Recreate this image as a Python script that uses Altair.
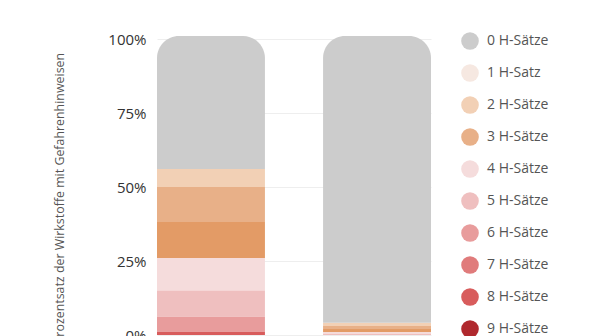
import altair as alt
import pandas as pd

# Stack order from top to bottom
categories = ["0 H-Sätze", "1 H-Satz", "2 H-Sätze", "3 H-Sätze", "10 H-Sätze",
              "4 H-Sätze", "5 H-Sätze", "6 H-Sätze", "7 H-Sätze", "8 H-Sätze", "9 H-Sätze"]
colors = ["#cccccc", "#f6e8e1", "#f2d0b5", "#e8b088", "#e39b66",
          "#f5dcdc", "#efbfbf", "#e89c9c", "#e07b7b", "#d85c5c", "#b0292e"]
legend_values = ["0 H-Sätze", "1 H-Satz", "2 H-Sätze", "3 H-Sätze", "4 H-Sätze",
                 "5 H-Sätze", "6 H-Sätze", "7 H-Sätze", "8 H-Sätze", "9 H-Sätze"]

groups = ["A", "B"]
values_a = [44.9, 0.0, 6.1, 11.8, 12.2, 11.0, 8.8, 5.1, 0.0, 1.1, 0.0]
values_b = [96.9, 0.0, 1.1, 1.0, 1.0, 0.6, 0.4, 0.0, 0.0, 0.0, 0.0]

rows = []
n = len(categories)
for g, vals in zip(groups, [values_a, values_b]):
    for i, (c, v) in enumerate(zip(categories, vals)):
        rows.append({"group": g, "cat": c, "value": v, "rank": n - i})
df = pd.DataFrame(rows)

FONT = "Open Sans"

color = alt.Color(
    "cat:N",
    scale=alt.Scale(domain=categories, range=colors),
    legend=alt.Legend(
        values=legend_values,
        title=None,
        orient="none",
        legendX=304,
        legendY=-7,
        symbolType="circle",
        symbolSize=310,
        symbolStrokeWidth=0,
        symbolOpacity=1,
        labelFont=FONT,
        labelFontSize=14,
        labelColor="#555555",
        labelOffset=8,
        rowPadding=14,
    ),
)

x = alt.X("group:N", axis=None,
          scale=alt.Scale(paddingInner=0.35, paddingOuter=0))
y = alt.Y(
    "y1:Q",
    scale=alt.Scale(domain=[0, 100], nice=False),
    axis=alt.Axis(
        values=[0, 25, 50, 75, 100],
        labelExpr="datum.value + '%'",
        domain=False,
        ticks=False,
        labelPadding=11,
        labelFont=FONT,
        labelFontSize=15,
        labelColor="#333333",
        gridColor="#eeeeee",
        title="Prozentsatz der Wirkstoffe mit Gefahrenhinweisen",
        titleFont=FONT,
        titleFontSize=12.4,
        titleFontWeight="normal",
        titleColor="#555555",
        titleX=-91,
        titleY=159,
    ),
)

base = alt.Chart(df).transform_stack(
    stack="value",
    as_=["y0", "y1"],
    groupby=["group"],
    sort=[alt.SortField("rank", order="ascending")],
).encode(x=x, y=y, y2="y0:Q", color=color)

rest = base.transform_filter(alt.datum.cat != "0 H-Sätze").mark_bar()
top = base.transform_filter(alt.datum.cat == "0 H-Sätze").mark_bar(
    cornerRadiusTopLeft=22, cornerRadiusTopRight=22
)

chart = alt.layer(rest, top).properties(
    width=274,
    height=296,
    autosize=alt.AutoSizeParams(type="none"),
    padding={"left": 157, "top": 39, "right": 169, "bottom": 1},
).configure_view(stroke=None)

chart.save("out.html", embed_options={"renderer": "svg", "actions": False})
